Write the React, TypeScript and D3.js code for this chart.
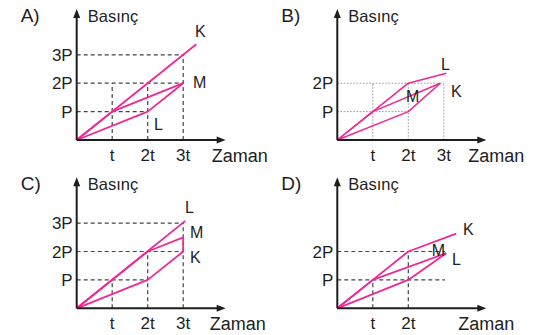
import React, { useEffect, useRef } from "react";
import * as d3 from "d3";

// panel titles and axis text
const panelNames = ["A)", "B)", "C)", "D)"];
const axisTitleY = "Basınç";
const axisTitleX = "Zaman";
const timeLabels = ["t", "2t", "3t"];
const pressureLabels = ["P", "2P", "3P"];

// ticks shown on each panel (in t and P units)
const timeTicks = [[1, 2, 3], [1, 2, 3], [1, 2, 3], [1, 2]];
const pressureTicks = [[1, 2, 3], [1, 2], [1, 2, 3], [1, 2]];

// series names per panel
const seriesNames = [["K", "M", "L"], ["L", "M", "K"], ["L", "M", "K"], ["K", "M", "L"]];

// series points [time (t), pressure (P)]
const seriesA = [
  [[0, 0], [3.37, 3.37]],
  [[0, 0], [1, 1], [3, 2]],
  [[0, 0], [2, 1], [3, 2]],
];
const seriesB = [
  [[0, 0], [1, 1], [2, 2], [3.07, 2.35]],
  [[0, 0], [1, 1], [2.9, 2]],
  [[0, 0], [2, 1], [2.9, 2]],
];
const seriesC = [
  [[0, 0], [3.06, 3.08]],
  [[0, 0], [2, 2], [3, 2.5], [3, 2]],
  [[0, 0], [2, 1], [3, 2]],
];
const seriesD = [
  [[0, 0], [1, 1], [2, 2], [3.35, 2.63]],
  [[0, 0], [1, 1], [3.07, 1.94]],
  [[0, 0], [2, 1], [3.07, 1.94]],
];
const allSeries = [seriesA, seriesB, seriesC, seriesD];

// guide lines: horizontal [level, up to time], vertical [time, up to level]
const hGuides = [
  [[1, 2], [2, 3], [3, 3]],
  [[1, 2], [2, 3]],
  [[1, 2], [2, 3], [3, 3]],
  [[1, 3.03], [2, 3.03]],
];
const vGuides = [
  [[1, 2], [2, 2], [3, 3]],
  [[1, 2], [2, 2], [3, 2]],
  [[1, 1], [2, 2], [3, 3]],
  [[1, 1], [2, 2]],
];

// layout (pixels)
const origins = [[76.7, 140], [337.3, 140], [76.7, 308.3], [337.3, 308.3]];
const labelOffsets = [
  [[118.3, -103], [116.3, -52], [77.3, -10]],
  [[103.7, -70], [68.7, -38], [113.7, -43]],
  [[108.3, -95.3], [113.3, -70.3], [113.3, -45.3]],
  [[125.7, -73.3], [94.4, -52.3], [114.7, -43.3]],
];
const zamanOffsets = [135, 131, 133, 121];
const dotted = [false, true, false, false];

const stepT = 35.5;
const stepP = 28.4;
const font = "'Liberation Sans', Arial, Helvetica, sans-serif";
const pink = "#ee2894";
const ink = "#1e1e1e";

function drawPanel(svg, i) {
  const [ox, oy] = origins[i];
  const g = svg.append("g").attr("transform", `translate(${ox},${oy})`);
  const x = d3.scaleLinear().domain([0, 1]).range([0, stepT]);
  const y = d3.scaleLinear().domain([0, 1]).range([0, -stepP]);

  const guideColor = dotted[i] ? "#999" : "#444";
  const dash = dotted[i] ? "1.6 1.6" : "4 3";
  const guides = g.append("g")
    .attr("stroke", guideColor)
    .attr("stroke-width", dotted[i] ? 1 : 1.2)
    .attr("stroke-dasharray", dash)
    .attr("fill", "none");
  hGuides[i].forEach(([lvl, to]) => {
    guides.append("line")
      .attr("x1", x(0)).attr("x2", x(to))
      .attr("y1", y(lvl)).attr("y2", y(lvl));
  });
  vGuides[i].forEach(([tm, to]) => {
    guides.append("line")
      .attr("x1", x(tm)).attr("x2", x(tm))
      .attr("y1", y(0)).attr("y2", y(to));
  });

  // series lines
  const line = d3.line().x(d => x(d[0])).y(d => y(d[1]));
  allSeries[i].forEach(pts => {
    g.append("path")
      .attr("d", line(pts))
      .attr("fill", "none")
      .attr("stroke", pink)
      .attr("stroke-width", dotted[i] ? 1.5 : 1.8)
      .attr("stroke-linejoin", "round");
  });

  // axes with arrowheads
  const axisTop = -131;
  const axisRight = 149;
  g.append("path")
    .attr("d", `M0,0V${axisTop + 6}M0,0H${axisRight - 6}`)
    .attr("stroke", ink)
    .attr("stroke-width", 2)
    .attr("fill", "none");
  g.append("path")
    .attr("d", `M0,${axisTop}L-3.5,${axisTop + 9}L3.5,${axisTop + 9}Z`)
    .attr("fill", ink);
  g.append("path")
    .attr("d", `M${axisRight},0L${axisRight - 9},-3.5L${axisRight - 9},3.5Z`)
    .attr("fill", ink);

  const text = (sel) => sel.attr("font-family", font).attr("fill", ink);

  // tick labels
  timeTicks[i].forEach(v => {
    g.append("text").call(text)
      .attr("x", x(v)).attr("y", 21)
      .attr("text-anchor", "middle")
      .attr("font-size", 17)
      .text(timeLabels[v - 1]);
  });
  pressureTicks[i].forEach(v => {
    g.append("text").call(text)
      .attr("x", -4).attr("y", y(v) + 6)
      .attr("text-anchor", "end")
      .attr("font-size", 17)
      .text(pressureLabels[v - 1]);
  });

  // axis titles
  g.append("text").call(text)
    .attr("x", 11).attr("y", -118.5)
    .attr("font-size", 16.5)
    .text(axisTitleY);
  g.append("text").call(text)
    .attr("x", zamanOffsets[i]).attr("y", 22)
    .attr("font-size", 18)
    .text(axisTitleX);

  // panel letter
  g.append("text").call(text)
    .attr("x", -56).attr("y", -118)
    .attr("font-size", 19)
    .text(panelNames[i]);

  // series labels
  seriesNames[i].forEach((name, k) => {
    const [dx, dy] = labelOffsets[i][k];
    g.append("text").call(text)
      .attr("x", dx).attr("y", dy)
      .attr("font-size", 16)
      .text(name);
  });
}

export default function App() {
  const ref = useRef(null);

  useEffect(() => {
    const svg = d3.select(ref.current);
    svg.selectAll("*").remove();
    panelNames.forEach((_, i) => drawPanel(svg, i));
  }, []);

  return (
    <svg
      ref={ref}
      width={538}
      height={335}
      style={{ position: "absolute", left: 0, top: 0, background: "#fff" }}
    />
  );
}
